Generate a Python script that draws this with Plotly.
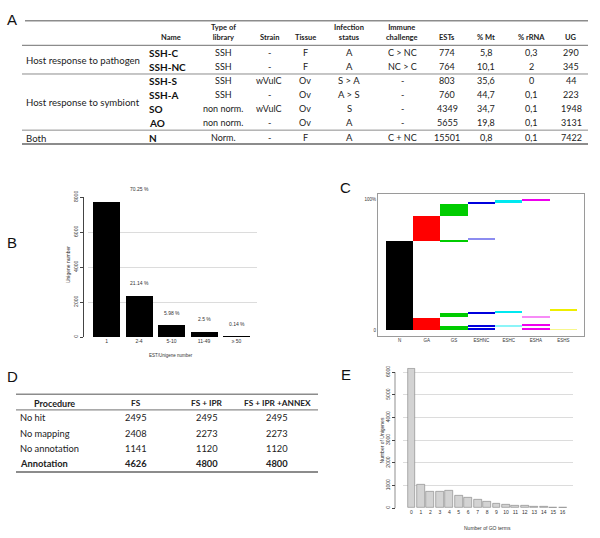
import plotly.graph_objects as go

W, H = 600, 538
def X(px): return px / W
def Y(py): return 1 - py / H

# ---------------- Data ----------------
# Panel A table
a_groups = ["Host response to pathogen", "Host response to symbiont", "Both"]
a_headers = ["Name", "Type of<br>library", "Strain", "Tissue", "Infection<br>status",
             "Immune<br>challenge", "ESTs", "% Mt", "% rRNA", "UG"]
a_names = ["SSH-C", "SSH-NC", "SSH-S", "SSH-A", "SO", "AO", "N"]
a_lib_type = ["SSH", "SSH", "SSH", "SSH", "non norm.", "non norm.", "Norm."]
a_strain = ["-", "-", "wVulC", "-", "wVulC", "-", "-"]
a_tissue = ["F", "F", "Ov", "Ov", "Ov", "Ov", "F"]
a_infection = ["A", "A", "S > A", "A > S", "S", "A", "A"]
a_immune = ["C > NC", "NC > C", "-", "-", "-", "-", "C + NC"]
a_ests = [774, 764, 803, 760, 4349, 5655, 15501]
a_pct_mt = ["5,8", "10,1", "35,6", "44,7", "34,7", "19,8", "0,8"]
a_pct_rrna = ["0,3", "2", "0", "0,1", "0,1", "0,1", "0,1"]
a_ug = [290, 345, 44, 223, 1948, 3131, 7422]

# Panel B
b_cats = ["1", "2-4", "5-10", "11-49", "\u2265 50"]
b_vals = [7720, 2323, 657, 275, 15]
b_pct = ["70.25 %", "21.14 %", "5.98 %", "2.5 %", "0.14 %"]

# Panel C (fraction of unigenes, segments per library)
c_cols = ["N", "GA", "GS", "ESHNC", "ESHC", "ESHA", "ESHS"]
c_seg_col = ["N", "GA", "GA", "GS", "GS", "GS", "GS",
             "ESHNC", "ESHNC", "ESHNC", "ESHNC", "ESHNC",
             "ESHC", "ESHC", "ESHC",
             "ESHA", "ESHA", "ESHA", "ESHA",
             "ESHS", "ESHS"]
c_seg_lo = [0.0, 0.0, 0.677, 0.0, 0.098, 0.677, 0.867,
            0.0, 0.030, 0.128, 0.687, 0.962,
            0.030, 0.137, 0.972,
            0.0, 0.033, 0.098, 0.990,
            0.0, 0.147]
c_seg_hi = [0.677, 0.095, 0.867, 0.030, 0.128, 0.689, 0.962,
            0.009, 0.040, 0.137, 0.696, 0.972,
            0.038, 0.147, 0.990,
            0.010, 0.043, 0.106, 1.000,
            0.006, 0.156]
c_seg_light = [False, False, False, False, False, False, False,
               False, False, False, True, False,
               True, False, False,
               False, False, True, False,
               True, False]

# Panel D table
d_headers = ["Procedure", "FS", "FS + IPR", "FS + IPR +ANNEX"]
d_procedures = ["No hit", "No mapping", "No annotation", "Annotation"]
d_fs = [2495, 2408, 1141, 4626]
d_fs_ipr = [2495, 2273, 1120, 4800]
d_fs_ipr_annex = [2495, 2273, 1120, 4800]

# Panel E
e_cats = [str(i) for i in range(17)]
e_vals = [6150, 1030, 715, 740, 785, 565, 480, 365, 278, 190, 148, 117, 106, 74, 45, 40, 40]

# ---------------- Styles ----------------
c_colors = {"N": "#000000", "GA": "#ff0000", "GS": "#00cc00", "ESHNC": "#0000dd",
            "ESHC": "#00e8f0", "ESHA": "#ee00ee", "ESHS": "#eeee00"}
TF = "Lato"
tiny = dict(family="Liberation Sans", size=5, color="#333")

fig = go.Figure()

# ---- Panel B bars ----
fig.add_trace(go.Bar(x=b_cats, y=b_vals, marker=dict(color="black", line=dict(width=0)),
                     width=0.83, xaxis="x", yaxis="y", showlegend=False))
# ---- Panel C segments ----
for light in (False, True):
    xs, ys, bs, cs = [], [], [], []
    for c, lo, hi, lt in zip(c_seg_col, c_seg_lo, c_seg_hi, c_seg_light):
        if lt == light:
            xs.append(c); ys.append(hi - lo); bs.append(lo); cs.append(c_colors[c])
    fig.add_trace(go.Bar(x=xs, y=ys, base=bs, width=1, marker=dict(color=cs, line=dict(width=0)),
                         opacity=0.45 if light else 1.0, xaxis="x2", yaxis="y2", showlegend=False))
# ---- Panel E bars ----
fig.add_trace(go.Bar(x=e_cats, y=e_vals, width=0.83,
                     marker=dict(color="#d3d3d3", line=dict(color="#7f7f7f", width=0.6)),
                     xaxis="x3", yaxis="y3", showlegend=False))

ann = []
shapes = []

def text(px, py, s, size=9, bold=False, xa="center", ya="middle", family=TF, color="#222", angle=0):
    if bold:
        s = "<b>" + s + "</b>"
    ann.append(dict(x=X(px), y=Y(py), xref="paper", yref="paper", text=s, showarrow=False,
                    xanchor=xa, yanchor=ya, textangle=angle,
                    font=dict(family=family, size=size, color=color)))

def hline(x0, x1, py, w=1, color="#8c8c8c"):
    shapes.append(dict(type="line", xref="paper", yref="paper", x0=X(x0), x1=X(x1),
                       y0=Y(py), y1=Y(py), line=dict(color=color, width=w)))

# ---- Panel letters ----
for lab, px, py in [("A", 12, 13), ("B", 12, 239), ("C", 345, 183), ("D", 12, 375), ("E", 346, 373)]:
    text(px, py, lab, size=15, family="Liberation Sans", color="#111")

# ---- Table A ----
hline(25, 588, 14, 1.5)
hline(22, 588, 39, 1.2)
hline(22, 588, 68, 1)
hline(22, 588, 125, 1)
hline(22, 588, 139, 2)
col_x = [183, 223, 269, 305, 349, 402, 447, 486, 531, 571]
for i, h in enumerate(a_headers):
    text(col_x[i], 37.5, h, size=7.5, bold=True, xa="right" if i == 0 else "center", ya="bottom")
row_y = [46.5, 60.5, 75, 89, 103.5, 117.5, 132.5]
for r in range(len(a_names)):
    y = row_y[r]
    text(147, y, a_names[r], size=10, bold=True, xa="left", color="#111")
    vals = [a_lib_type[r], a_strain[r], a_tissue[r], a_infection[r], a_immune[r],
            str(a_ests[r]), a_pct_mt[r], a_pct_rrna[r], str(a_ug[r])]
    for j, v in enumerate(vals):
        text(col_x[j + 1], y, v, size=9 if j != 3 else 9.5)
for g, gy in zip(a_groups, [54, 97, 133]):
    text(24, gy, g, size=9.6, xa="left")

# ---- Table D ----
hline(16, 318, 393, 1.5)
hline(16, 318, 409, 1.2)
hline(16, 318, 472, 2)
d_x = [55, 136, 207, 277]
for i, h in enumerate(d_headers):
    text(d_x[i], 402, h, size=9 if i == 0 else 8.3, bold=True)
d_y = [417, 433, 448, 463]
for r in range(len(d_procedures)):
    b = (r == len(d_procedures) - 1)
    text(18, d_y[r], d_procedures[r], size=9.3, bold=b, xa="left")
    for j, v in enumerate([d_fs[r], d_fs_ipr[r], d_fs_ipr_annex[r]]):
        text(d_x[j + 1], d_y[r], str(v), size=9.3, bold=b)

# ---- Panel B labels ----
for c, v, p in zip(b_cats, b_vals, b_pct):
    ann.append(dict(x=c, y=v, xref="x", yref="y", text=p, showarrow=False, yanchor="bottom",
                    yshift=8, font=tiny))
text(171, 354, "EST/Unigene number", size=4.5, family="Liberation Sans", color="#333")
text(68, 262, "Unigene number", size=5, family="Liberation Sans", color="#333", angle=-90)

# ---- Panel E titles ----
text(487, 529, "Number of GO terms", size=5, family="Liberation Sans", color="#333")
text(382, 440, "Number of Unigenes", size=5, family="Liberation Sans", color="#333", angle=-90)

fig.update_layout(
    width=W, height=H, autosize=False, margin=dict(l=0, r=0, t=0, b=0),
    paper_bgcolor="white", plot_bgcolor="white", bargap=0, barmode="overlay",
    annotations=ann, shapes=shapes,
    # Panel B
    xaxis=dict(domain=[X(88), X(257)], anchor="y", range=[-0.57, 4.63], showline=False,
               ticks="", showgrid=False, tickfont=tiny, fixedrange=True),
    yaxis=dict(domain=[Y(335), Y(193)], anchor="free", position=X(83), range=[0, 8000],
               tickvals=[0, 2000, 4000, 6000, 8000], showline=True, linecolor="#444", linewidth=0.6,
               ticks="outside", ticklen=3, tickcolor="#444", tickwidth=0.6, tickangle=-90,
               tickfont=tiny, showgrid=True, gridcolor="#dcdcdc", gridwidth=0.8, zeroline=False),
    # Panel C
    xaxis2=dict(domain=[X(378), X(584)], anchor="y2", range=[-0.79, 6.76], type="category",
                categoryorder="array", categoryarray=c_cols, showline=True, mirror=True,
                linecolor="#9a9a9a", linewidth=1, ticks="", showgrid=False,
                tickfont=dict(family="Liberation Sans", size=4.5, color="#333")),
    yaxis2=dict(domain=[Y(334), Y(190)], anchor="x2", range=[-0.045, 1.038],
                tickvals=[0, 1], ticktext=["0", "100%"], showline=True, mirror=True,
                linecolor="#9a9a9a", linewidth=1, ticks="", showgrid=False, zeroline=False,
                tickfont=dict(family="Liberation Sans", size=4.5, color="#333")),
    # Panel E
    xaxis3=dict(domain=[X(403), X(573)], anchor="y3", range=[-0.9, 17.1], showline=False,
                ticks="", showgrid=False, tickfont=tiny),
    yaxis3=dict(domain=[Y(508.7), Y(366.1)], anchor="free", position=X(395), range=[0, 6200],
                tickvals=[0, 1000, 2000, 3000, 4000, 5000, 6000], showline=False,
                ticks="outside", ticklen=3, tickcolor="#444", tickwidth=0.6, tickangle=-90,
                tickfont=tiny, showgrid=True, gridcolor="#dcdcdc", gridwidth=0.8, zeroline=False),
)
# R-style y axis line for E (from 0 to 6000)
fig.add_shape(type="line", xref="paper", yref="y3", x0=X(395), x1=X(395), y0=0, y1=6000,
              line=dict(color="#444", width=0.6))

fig.write_html("out.html", config={"displayModeBar": False},
               post_script="document.body.style.margin='0px';document.body.style.overflow='hidden';")
